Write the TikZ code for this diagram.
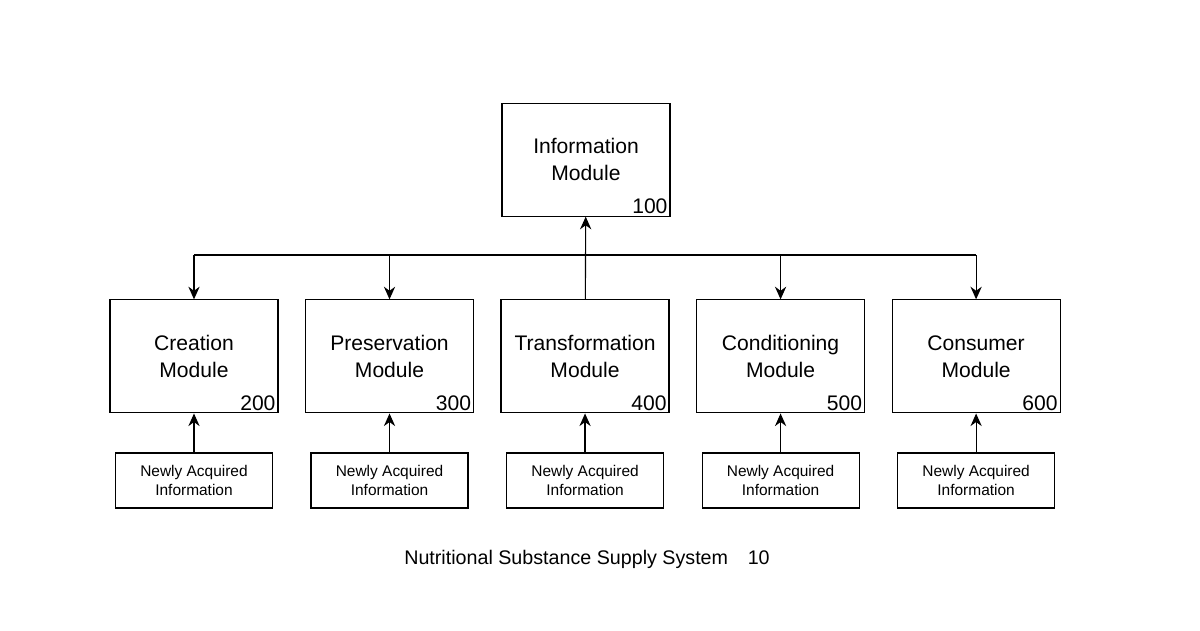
\documentclass[tikz,border=0pt]{standalone}
\usepackage{fontspec}
\setmainfont{Liberation Sans}
\usetikzlibrary{positioning, arrows.meta}

\begin{document}
\begin{tikzpicture}[
    module/.style = {draw, thick, minimum width = 4.2cm, minimum height = 2.825cm,
                     align = center, font = \fontsize{15}{19}\selectfont, inner sep = 0pt},
    newinfo/.style = {draw, thick, minimum width = 3.925cm, minimum height = 1.375cm,
                      align = center, font = \fontsize{11}{14}\selectfont, inner sep = 0pt},
    num/.style = {anchor = south east, inner sep = 2pt, font = \fontsize{15}{17}\selectfont},
    link/.style = {thick, -{Stealth[length=9pt, width=8pt]}}
]
    \useasboundingbox (0,0) rectangle (30,-15.75);
    \def\txtup{\vspace*{-0.6cm}}

    % top module
    \node[module] (info) at (14.65,-3.99) {\txtup Information\\Module};
    \node[num] (info num) at (info.south east) {100};

    % row of modules
    \node[module] (crea) at (4.85,-8.91) {\txtup Creation\\Module};
    \node[module, right = 0.66cm of crea] (pres) {\txtup Preservation\\Module};
    \node[module, right = 0.66cm of pres] (trans) {\txtup Transformation\\Module};
    \node[module, right = 0.66cm of trans] (cond) {\txtup Conditioning\\Module};
    \node[module, right = 0.66cm of cond] (cons) {\txtup Consumer\\Module};

    \coordinate (bus) at (14.65,-6.375);
    \foreach \m/\n in {crea/200, pres/300, trans/400, cond/500, cons/600} {
        \node[num] (\m num) at (\m.south east) {\n};
        \node[newinfo, below = 0.975cm of \m] (\m new) {Newly Acquired\\Information};
        \draw[link] (\m new) -- (\m);
    }
    \foreach \m in {crea, pres, cond, cons}
        \draw[link] (\m.north |- bus) -- (\m);
    \draw[thick] (crea.north |- bus) -- (cons.north |- bus);
    \draw[link, {Stealth[length=9pt, width=8pt]}-] (info) -- (trans);

    % caption
    \node[font = \fontsize{14}{16}\selectfont] (caption) at (14.675,-13.975)
        {Nutritional Substance Supply System\quad 10};
\end{tikzpicture}
\end{document}
